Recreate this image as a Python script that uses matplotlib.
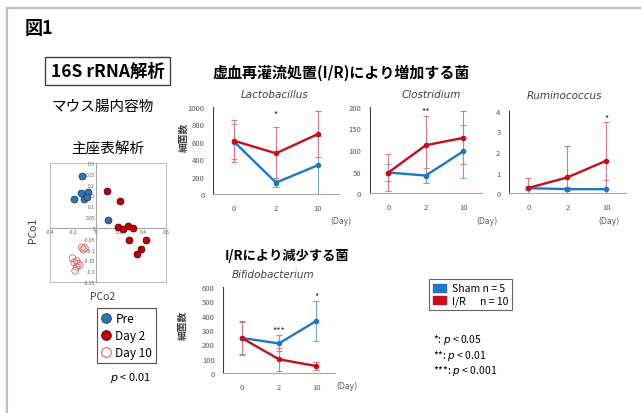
import numpy as np
import matplotlib.pyplot as plt
from matplotlib.lines import Line2D
from matplotlib.patches import Patch, Rectangle

plt.rcParams['font.family'] = ['Noto Sans CJK JP', 'DejaVu Sans']
plt.rcParams['mathtext.fontset'] = 'dejavusans'

W, H = 641, 414

# PCoA scores (PCo2, PCo1)
pre_x = [-0.123, -0.134, -0.069, -0.189, -0.111, -0.082, 0.103]
pre_y = [0.241, 0.163, 0.168, 0.132, 0.132, 0.144, 0.035]
d2_x = [0.089, 0.203, 0.183, 0.226, 0.274, 0.317, 0.280, 0.426, 0.383, 0.351]
d2_y = [0.169, 0.124, 0.002, -0.004, 0.010, 0.001, -0.058, -0.058, -0.097, -0.122]
d10_x = [-0.125, -0.100, -0.112, -0.205, -0.190, -0.172, -0.145, -0.170, -0.183, -0.160]
d10_y = [-0.090, -0.093, -0.100, -0.140, -0.160, -0.152, -0.172, -0.180, -0.198, -0.165]
pcoa_xticks = [-0.4, -0.2, 0, 0.2, 0.4, 0.6]
pcoa_xlabels = ['-0.4', '-0.2', '0', '0.2', '0.4', '0.6']
pcoa_yticks = [-0.25, -0.2, -0.15, -0.1, -0.05, 0, 0.05, 0.1, 0.15, 0.2, 0.25, 0.3]
pcoa_ylabels = ['-0.25', '-0.2', '-0.15', '-0.1', '-0.05', '0', '0.05', '0.1', '0.15', '0.2', '0.25', '0.3']

# bacterial counts by day
days = ['0', '2', '10']
lacto_sham = [600, 130, 330]
lacto_sham_err = [200, 55, 330]
lacto_ir = [610, 466, 687]
lacto_ir_err = [240, 300, 265]
clost_sham = [48, 41, 97]
clost_sham_err = [20, 17, 61]
clost_ir = [48, 111, 128]
clost_ir_err = [42, 68, 61]
rumi_sham = [0.25, 0.2, 0.2]
rumi_sham_err = [0.05, 0.1, 0.43]
rumi_ir = [0.26, 0.77, 1.58]
rumi_ir_err = [0.47, 1.53, 1.85]
bifi_sham = [245, 207, 363]
bifi_sham_err = [110, 55, 137]
bifi_ir = [245, 97, 50]
bifi_ir_err = [120, 80, 30]

blue = '#1F76C4'
red = '#C40F1A'
blue_err = '#6FA8DA'
red_err = '#DA7A80'
gray = '#595959'

fig = plt.figure(figsize=(W / 100, H / 100), dpi=100)


def px_axes(x0, y0, x1, y1):
    return fig.add_axes([x0 / W, 1 - y1 / H, (x1 - x0) / W, (y1 - y0) / H])


def label(x, y, s, **kw):
    kw.setdefault('ha', 'center')
    kw.setdefault('va', 'center')
    fig.text(x / W, 1 - y / H, s, **kw)


# frame lines
fig.add_artist(Line2D([7 / W, 1], [1 - 9 / H, 1 - 9 / H], color='#BFBFBF', lw=1.6))
fig.add_artist(Line2D([7 / W, 7 / W], [0, 1 - 9 / H], color='#BFBFBF', lw=1.6))

label(25, 28, '図1', ha='left', fontsize=13, fontweight='bold')
label(107.5, 72, '16S rRNA解析', fontsize=12.5, fontweight='bold',
      bbox=dict(boxstyle='square,pad=0.3', fc='white', ec='#404040', lw=1))
label(102.5, 107, 'マウス腸内容物', fontsize=10.5)
label(107.5, 150, '主座表解析', fontsize=10.5)

# PCoA
ax = px_axes(50, 164, 166, 283)
ax.scatter(pre_x, pre_y, s=24, color='#2E75B6', edgecolor='#1B3F66', lw=0.6, zorder=3)
ax.scatter(d2_x, d2_y, s=24, color='#C00000', edgecolor='#5A0000', lw=0.6, zorder=3)
ax.scatter(d10_x, d10_y, s=24, facecolor='none', edgecolor='#E06666', lw=0.6, zorder=3)
ax.set_xlim(-0.4, 0.6)
ax.set_ylim(-0.25, 0.3)
ax.set_xticks(pcoa_xticks, pcoa_xlabels)
ax.set_yticks(pcoa_yticks, pcoa_ylabels)
ax.spines['left'].set_position('zero')
ax.spines['bottom'].set_position('zero')
for s in ['left', 'bottom']:
    ax.spines[s].set_color('#A6A6A6')
    ax.spines[s].set_linewidth(0.8)
for s in ['top', 'right']:
    ax.spines[s].set_visible(False)
ax.add_patch(Rectangle((0, 0), 1, 1, transform=ax.transAxes, fill=False,
                       ec='#BFBFBF', lw=0.8, clip_on=False))
ax.tick_params(length=0, labelsize=3.5, colors=gray, pad=1)
label(33, 230, 'PCo1', fontsize=7.5, rotation=90, color='#404040')
label(103, 297, 'PCo2', fontsize=7.5, color='#404040')

pcoa_handles = [
    Line2D([], [], ls='none', marker='o', ms=7, mfc='#2E75B6', mec='#1B3F66', mew=0.6),
    Line2D([], [], ls='none', marker='o', ms=7, mfc='#C00000', mec='#5A0000', mew=0.6),
    Line2D([], [], ls='none', marker='o', ms=7, mfc='none', mec='#E06666', mew=0.8),
]
leg = fig.legend(pcoa_handles, ['Pre', 'Day 2', 'Day 10'], loc='upper left',
                 bbox_to_anchor=(97 / W, 1 - 309 / H), fontsize=8.5, frameon=True,
                 fancybox=False, edgecolor='#262626', handlelength=0.9,
                 handletextpad=0.3, borderpad=0.35, labelspacing=0.33, borderaxespad=0)
leg.get_frame().set_linewidth(0.8)
label(131, 378, '$p$ < 0.01', fontsize=8)

# line panels
label(341.5, 73, '虚血再灌流処置(I/R)により増加する菌', fontsize=10.8, fontweight='bold')
label(287.5, 256, 'I/Rにより減少する菌', fontsize=9.5, fontweight='bold')


def line_panel(box, sham, sham_err, ir, ir_err, ymax, ystep, title, tx, ty, stars):
    ax = px_axes(*box)
    x = np.arange(len(days))
    ax.errorbar(x, sham, yerr=sham_err, color=blue, ecolor=blue_err, elinewidth=0.8,
                capsize=2.5, capthick=0.8, marker='o', ms=3, lw=1.7)
    ax.errorbar(x, ir, yerr=ir_err, color=red, ecolor=red_err, elinewidth=0.8,
                capsize=2.5, capthick=0.8, marker='o', ms=3, lw=1.7)
    ax.set_xlim(-0.5, 2.5)
    ax.set_ylim(0, ymax)
    ax.set_yticks(np.arange(0, ymax + ystep / 2, ystep))
    ax.set_xticks(x, days)
    for s in ['top', 'right']:
        ax.spines[s].set_visible(False)
    ax.spines['left'].set_color('#404040')
    ax.spines['bottom'].set_color('#A6A6A6')
    ax.tick_params(length=0, labelsize=5.5, colors=gray)
    ax.tick_params(axis='x', pad=7)
    ax.tick_params(axis='y', pad=6)
    label(tx, ty, title, fontsize=7.5, style='italic', color='#404040', family='DejaVu Sans')
    for i, s, v in stars:
        ax.text(i, v, s, ha='center', va='center', fontsize=6.5, color='#262626', clip_on=False)
    return ax


line_panel((213, 107.7, 339, 195), lacto_sham, lacto_sham_err, lacto_ir, lacto_ir_err,
           1000, 200, 'Lactobacillus', 275, 95, [(1, '*', 920)])
line_panel((369.6, 107.7, 482, 194.3), clost_sham, clost_sham_err, clost_ir, clost_ir_err,
           200, 50, 'Clostridium', 431, 95, [(1, '**', 190)])
line_panel((508.8, 111.7, 626, 194.3), rumi_sham, rumi_sham_err, rumi_ir, rumi_ir_err,
           4, 1, 'Ruminococcus', 564, 96, [(2, '*', 3.65)])
line_panel((223, 287.7, 335, 374.3), bifi_sham, bifi_sham_err, bifi_ir, bifi_ir_err,
           600, 100, 'Bifidobacterium', 273, 275, [(1, '***', 305), (2, '*', 540)])

label(184, 137, '細菌数', fontsize=7, rotation=90, fontweight='bold', color='#404040')
label(183, 325, '細菌数', fontsize=7, rotation=90, fontweight='bold', color='#404040')
for dx, dy in [(341, 222), (487, 222), (609, 222), (347, 387)]:
    label(dx, dy, '(Day)', fontsize=5.5, color=gray, family='DejaVu Sans')

line_handles = [Patch(color=blue), Patch(color=red)]
leg2 = fig.legend(line_handles, ['Sham n = 5', 'I/R      n = 10'], loc='upper left',
                  bbox_to_anchor=(429 / W, 1 - 280 / H), fontsize=7.5, frameon=True,
                  fancybox=False, edgecolor='#404040', handlelength=1.2, handleheight=0.8,
                  handletextpad=0.6, borderpad=0.4, labelspacing=0.25, borderaxespad=0)
leg2.get_frame().set_linewidth(0.8)

label(433, 340, '*: $p$ < 0.05', ha='left', fontsize=7.5)
label(433, 356, '**: $p$ < 0.01', ha='left', fontsize=7.5)
label(433, 371, '***: $p$ < 0.001', ha='left', fontsize=7.5)

fig.savefig('out.png', dpi=100)
